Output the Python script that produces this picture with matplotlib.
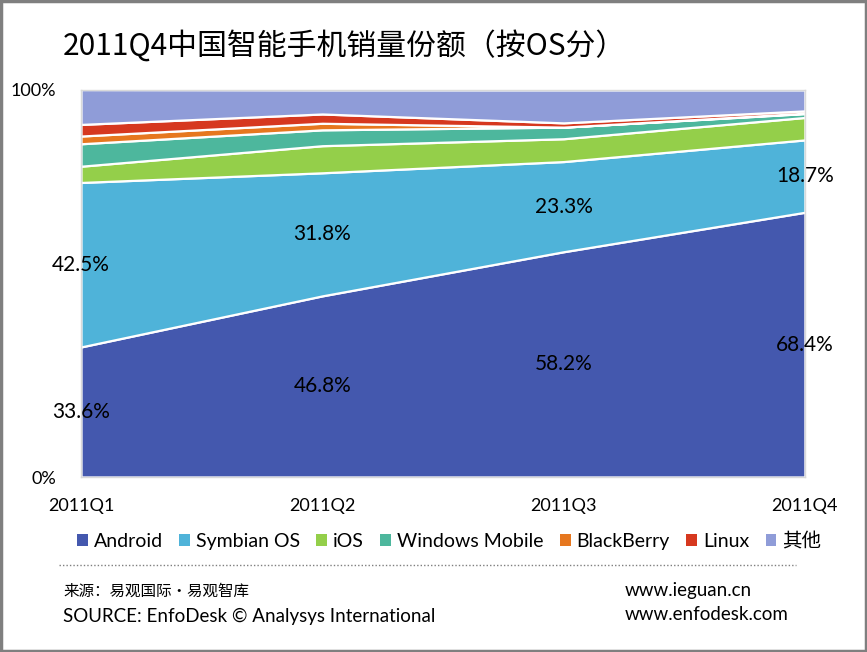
import matplotlib
matplotlib.use("Agg")
import numpy as np
from matplotlib import pyplot as plt
from matplotlib.patches import Rectangle
from matplotlib.lines import Line2D

# dados (% por trimestre)
quarters = ['2011Q1', '2011Q2', '2011Q3', '2011Q4']
android = [33.6, 46.8, 58.2, 68.4]
symbian = [42.5, 31.8, 23.3, 18.7]
ios = [4.2, 7.0, 5.9, 5.8]
windows_mobile = [5.8, 4.1, 3.0, 1.0]
blackberry = [2.0, 1.7, 0.0, 0.1]
linux = [3.0, 2.4, 1.1, 0.6]
outros = [9.0, 6.2, 8.5, 5.4]

names = ['Android', 'Symbian OS', 'iOS', 'Windows Mobile', 'BlackBerry', 'Linux', '其他']
colors = ['#4458AE', '#4FB3D9', '#94CF4A', '#4DB79D', '#E6771F', '#D6381F', '#8F9CD8']

plt.rcParams['font.family'] = ['Lato', 'Noto Sans CJK SC', 'DejaVu Sans']
cjk = ['Noto Sans CJK SC', 'DejaVu Sans']

fig = plt.figure(figsize=(8.67, 6.52), dpi=100)
fig.patch.set_facecolor('white')
fig.patches.append(Rectangle((0.0015, 0.002), 0.997, 0.996, transform=fig.transFigure,
                             fill=False, edgecolor='#7F7F7F', linewidth=2.5))

ax = fig.add_axes([0.0934, 0.2684, 0.835, 0.5936])
x = np.arange(len(quarters))
series = [android, symbian, ios, windows_mobile, blackberry, linux, outros]
ax.stackplot(x, *series, colors=colors, edgecolor='white', linewidth=1.6)

ax.set_xlim(0, 3)
ax.set_ylim(0, 100)
ax.set_xticks(x)
ax.set_xticklabels(quarters, fontsize=13)
ax.set_yticks([0, 100])
ax.set_yticklabels(['0%', '100%'], fontsize=13)
ax.tick_params(axis='x', length=0, pad=15)
ax.tick_params(axis='y', length=0, pad=18)
for s in ax.spines.values():
    s.set_color('#D9D9D9')
    s.set_linewidth(1)

# rótulos no meio das faixas Android e Symbian
for i in range(len(quarters)):
    ax.text(x[i], android[i] / 2, f'{android[i]:.1f}%', ha='center', va='center',
            fontsize=15, clip_on=False)
    ax.text(x[i], android[i] + symbian[i] / 2, f'{symbian[i]:.1f}%', ha='center',
            va='center', fontsize=15, clip_on=False)

fig.text(0.072, 0.93, '2011Q4中国智能手机销量份额（按OS分）', fontsize=21.5, family=cjk,
         va='center', ha='left')

handles = [Rectangle((0, 0), 1, 1, facecolor=c, edgecolor='none') for c in colors]
fig.legend(handles, names, loc='center', bbox_to_anchor=(0.518, 0.17), ncol=7,
           frameon=False, fontsize=14, handlelength=0.55, handleheight=0.55,
           handletextpad=0.3, columnspacing=0.85)

fig.lines.append(Line2D([0.068, 0.918], [0.134, 0.134], transform=fig.transFigure,
                        color='#7F7F7F', linewidth=1, linestyle=(0, (1, 1.5))))

fig.text(0.073, 0.093, '来源：易观国际·易观智库', fontsize=11.2, family=cjk, va='center')
fig.text(0.073, 0.054, 'SOURCE: EnfoDesk © Analysys International', fontsize=13.5, va='center')
fig.text(0.72, 0.094, 'www.ieguan.cn', fontsize=13.5, va='center')
fig.text(0.72, 0.058, 'www.enfodesk.com', fontsize=13.5, va='center')

fig.savefig('out.png', dpi=100)
